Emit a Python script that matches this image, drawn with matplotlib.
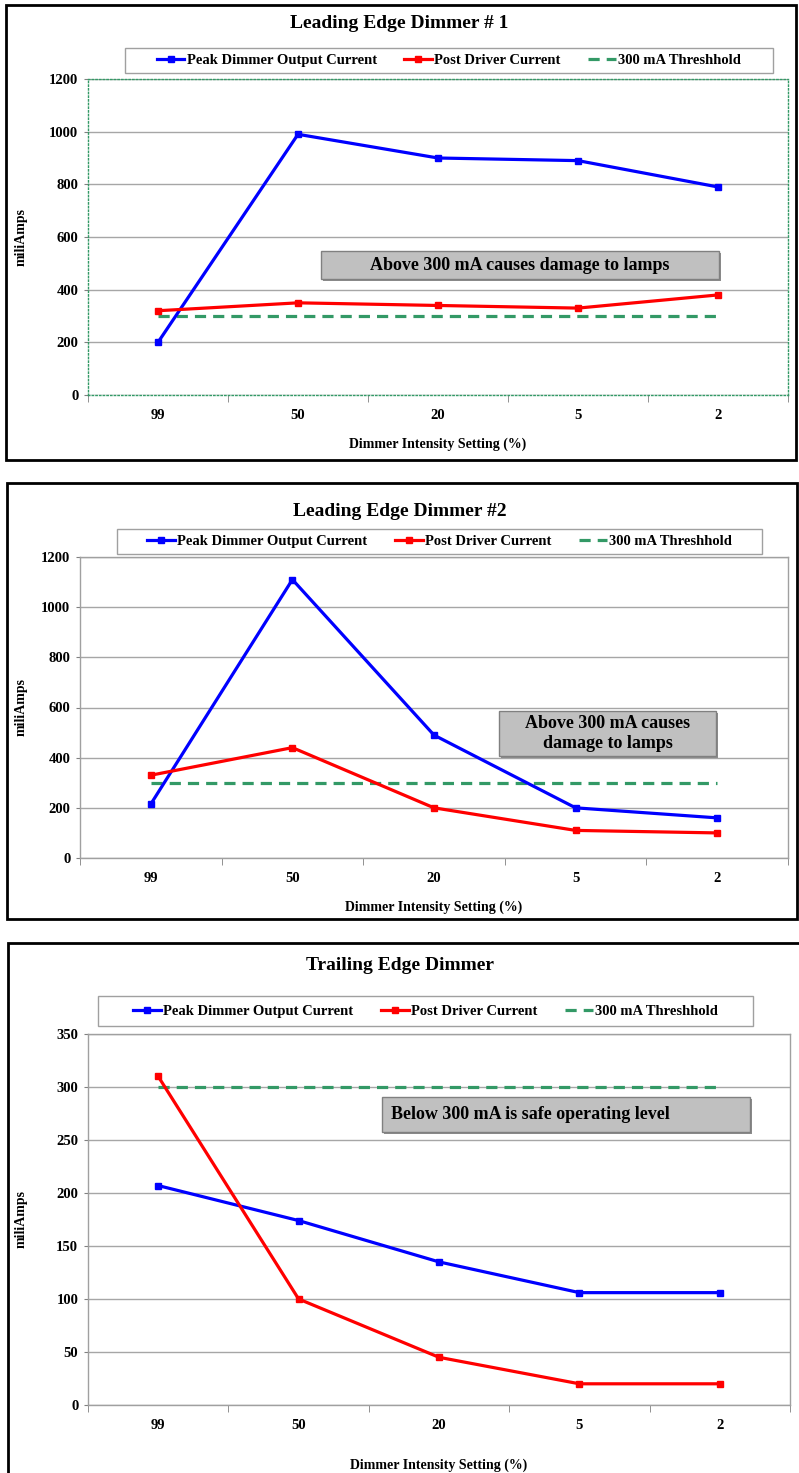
import matplotlib
matplotlib.use("Agg")
import matplotlib.pyplot as plt
from matplotlib.patches import Rectangle
import numpy as np

# Dimmer test data (mA)
categories = ["99", "50", "20", "5", "2"]

p1_peak = [200, 990, 900, 890, 790]
p1_post = [320, 350, 340, 330, 380]

p2_peak = [215, 1110, 490, 200, 160]
p2_post = [330, 440, 200, 110, 100]

p3_peak = [207, 174, 135, 106, 106]
p3_post = [310, 100, 45, 20, 20]

threshold = [300, 300, 300, 300, 300]

titles = ["Leading Edge Dimmer # 1", "Leading Edge Dimmer #2", "Trailing Edge Dimmer"]
notes = ["Above 300 mA causes damage to lamps",
         "Above 300 mA causes\ndamage to lamps",
         "Below 300 mA is safe operating level"]
y_ticks = [np.arange(0, 1201, 200), np.arange(0, 1201, 200), np.arange(0, 351, 50)]

W, H = 799, 1473
plt.rcParams["font.family"] = ["Liberation Serif", "DejaVu Serif"]
plt.rcParams["font.weight"] = "bold"

fig = plt.figure(figsize=(W / 100, H / 100), dpi=100)


def px_box(x0, y0, x1, y1):
    # pixel box (top-left origin) -> figure fraction [l, b, w, h]
    return [x0 / W, 1 - y1 / H, (x1 - x0) / W, (y1 - y0) / H]


def px_rect(x0, y0, x1, y1, **kw):
    l, b, w, h = px_box(x0, y0, x1, y1)
    r = Rectangle((l, b), w, h, transform=fig.transFigure, **kw)
    fig.patches.append(r)
    return r


# layout in pixels of the reference
panel_frames = [(6, 5, 796, 460), (7, 483, 797, 919), (8, 943, 810, 1490)]
axes_boxes = [(88, 79, 788, 395), (80, 557, 788, 858), (88, 1034, 790, 1405)]
title_y = [24, 511, 965]
legend_boxes = [(125, 48, 773, 73), (117, 529, 762, 554), (98, 996, 753, 1026)]
note_boxes = [(321, 251, 719, 279), (499, 711, 716, 756), (382, 1097, 750, 1132)]
note_align = ["center", "center", "left"]
xlabel_pad = [11, 11, 19]
ylabel_x = 28

series = [(p1_peak, p1_post), (p2_peak, p2_post), (p3_peak, p3_post)]

for i in range(3):
    px_rect(*panel_frames[i], fill=False, edgecolor="black", linewidth=2)

    ax = fig.add_axes(px_box(*axes_boxes[i]))
    x = np.arange(len(categories))
    peak, post = series[i]
    ax.plot(x, peak, color="#0000ff", lw=2.3, marker="s", ms=4.5,
            label="Peak Dimmer Output Current", zorder=4)
    ax.plot(x, post, color="#ff0000", lw=2.3, marker="s", ms=4.5,
            label="Post Driver Current", zorder=4)
    ax.plot(x, threshold, color="#339966", lw=2.3, ls=(0, (3.5, 2.2)),
            label="300 mA Threshhold", zorder=3)

    ax.set_xlim(-0.5, len(categories) - 0.5)
    ax.set_ylim(y_ticks[i][0], y_ticks[i][-1])
    ax.set_yticks(y_ticks[i])
    ax.set_xticks(x)
    ax.set_xticklabels(categories)
    ax.set_xticks(np.arange(-0.5, len(categories), 1), minor=True)
    ax.tick_params(axis="x", which="major", length=0, pad=10, labelsize=10.5)
    ax.tick_params(axis="x", which="minor", length=5, color="#808080")
    ax.tick_params(axis="y", length=3, pad=4, labelsize=10.5, color="#808080")
    ax.grid(axis="y", color="#a6a6a6", lw=1)
    ax.set_axisbelow(True)

    if i == 0:
        for s in ax.spines.values():
            s.set_color("#339966")
            s.set_linestyle(":")
            s.set_linewidth(1)
    else:
        for s in ax.spines.values():
            s.set_color("#a0a0a0")
            s.set_linewidth(1)

    ax.set_xlabel("Dimmer Intensity Setting (%)", fontsize=10, fontweight="bold",
                  labelpad=xlabel_pad[i])
    ax.set_ylabel("miliAmps", fontsize=10, fontweight="bold")
    ax0, _, ax1, _ = axes_boxes[i]
    ax.yaxis.set_label_coords((ylabel_x - ax0) / (ax1 - ax0), 0.5)

    fig.text(0.5, 1 - title_y[i] / H, titles[i], ha="center", va="center",
             fontsize=14, fontweight="bold")

    # legend: own frame, entries centred inside it
    lx0, ly0, lx1, ly1 = legend_boxes[i]
    px_rect(lx0, ly0, lx1, ly1, facecolor="white", edgecolor="#a0a0a0", lw=1, zorder=5)
    leg = fig.legend(*ax.get_legend_handles_labels(), loc="center", ncol=3,
                     bbox_to_anchor=((lx0 + lx1) / 2 / W, 1 - (ly0 + ly1) / 2 / H),
                     fontsize=10.5, frameon=False, handlelength=1.9,
                     handletextpad=0.15, columnspacing=1.9, borderpad=0)
    leg.set_zorder(6)

    nx0, ny0, nx1, ny1 = note_boxes[i]
    px_rect(nx0 + 2, ny0 + 2, nx1 + 2, ny1 + 2, facecolor="#8c8c8c", edgecolor="none",
            zorder=5)
    px_rect(nx0, ny0, nx1, ny1, facecolor="#c0c0c0", edgecolor="#808080", lw=1, zorder=6)
    if note_align[i] == "left":
        tx = (nx0 + 9) / W
    else:
        tx = (nx0 + nx1) / 2 / W
    fig.text(tx, 1 - (ny0 + ny1) / 2 / H, notes[i], ha=note_align[i], va="center",
             fontsize=13, fontweight="bold", zorder=7, linespacing=1.25)

fig.savefig("out.png", dpi=100)
